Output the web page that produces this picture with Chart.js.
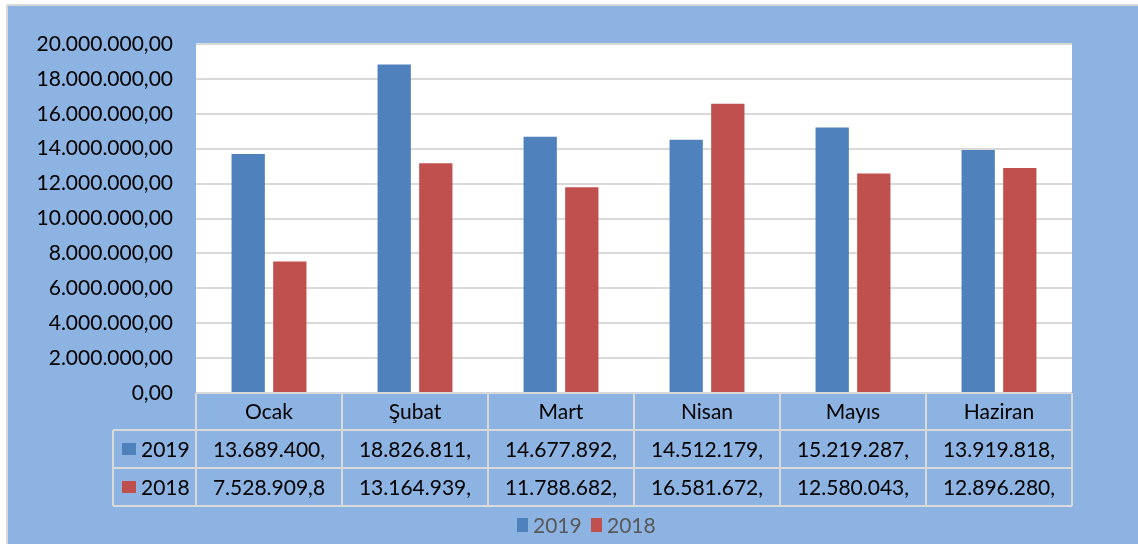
<!DOCTYPE html>
<html>
<head>
<meta charset="utf-8">
<script src="https://cdn.jsdelivr.net/npm/chart.js@4.4.1/dist/chart.umd.min.js"></script>
<style>
  html, body { margin: 0; padding: 0; background: #fff; }
  #wrap { width: 1138px; height: 544px; }
</style>
</head>
<body>
<div id="wrap"><canvas id="chart" width="1138" height="544"></canvas></div>
<script>
const months = ['Ocak', 'Şubat', 'Mart', 'Nisan', 'Mayıs', 'Haziran'];
const series2019 = [13689400, 18826811, 14677892, 14512179, 15219287, 13919818];
const series2018 = [7528909.8, 13164939, 11788682, 16581672, 12580043, 12896280];
// what the data table cells show (Excel cuts them off at the cell edge)
const table2019 = ['13.689.400,', '18.826.811,', '14.677.892,', '14.512.179,', '15.219.287,', '13.919.818,'];
const table2018 = ['7.528.909,8', '13.164.939,', '11.788.682,', '16.581.672,', '12.580.043,', '12.896.280,'];
const seriesNames = ['2019', '2018'];

const BLUE = '#4F81BD';
const RED = '#C0504D';
const BACK = '#8DB3E2';
const LINE = '#D9D9D9';
const FONT = 'Lato, "Open Sans", sans-serif';

function trNumber(v) {
  const parts = v.toFixed(2).split('.');
  return parts[0].replace(/\B(?=(\d{3})+(?!\d))/g, '.') + ',' + parts[1];
}

const framePlugin = {
  id: 'frame',
  beforeDraw(chart) {
    const ctx = chart.ctx;
    const a = chart.chartArea;
    ctx.save();
    ctx.fillStyle = '#fff';
    ctx.fillRect(0, 0, chart.width, chart.height);
    ctx.fillStyle = BACK;
    ctx.fillRect(7, 5, chart.width - 7, chart.height - 5);
    ctx.strokeStyle = LINE;
    ctx.lineWidth = 2;
    ctx.beginPath();
    ctx.moveTo(7, 5); ctx.lineTo(chart.width, 5);
    ctx.moveTo(7, 5); ctx.lineTo(7, chart.height);
    ctx.stroke();
    ctx.fillStyle = '#fff';
    ctx.fillRect(a.left, a.top, a.right - a.left, a.bottom - a.top);
    ctx.restore();
  },
  afterDraw(chart) {
    const ctx = chart.ctx;
    const a = chart.chartArea;
    const x = chart.scales.x;
    const n = months.length;
    const colW = (a.right - a.left) / n;
    const rows = [a.bottom, a.bottom + 37, a.bottom + 75, a.bottom + 113];
    const keyLeft = 113;

    ctx.save();
    ctx.strokeStyle = LINE;
    ctx.lineWidth = 2;
    ctx.beginPath();
    // horizontal lines
    ctx.moveTo(a.left, rows[0]); ctx.lineTo(a.right, rows[0]);
    for (let r = 1; r < rows.length; r++) {
      ctx.moveTo(keyLeft, rows[r]); ctx.lineTo(a.right, rows[r]);
    }
    // vertical lines
    for (let i = 0; i <= n; i++) {
      const cx = a.left + i * colW;
      ctx.moveTo(cx, rows[0]); ctx.lineTo(cx, rows[3]);
    }
    ctx.moveTo(keyLeft, rows[1]); ctx.lineTo(keyLeft, rows[3]);
    ctx.stroke();

    ctx.font = '21px ' + FONT;
    ctx.fillStyle = '#000';
    ctx.textAlign = 'center';
    ctx.textBaseline = 'middle';
    months.forEach((m, i) => {
      const cx = x.getPixelForValue(i);
      ctx.fillText(m, cx, (rows[0] + rows[1]) / 2 + 1);
      ctx.fillText(table2019[i], cx, (rows[1] + rows[2]) / 2 + 1);
      ctx.fillText(table2018[i], cx, (rows[2] + rows[3]) / 2 + 1);
    });

    // series keys in the table
    const keyColors = [BLUE, RED];
    ctx.textAlign = 'left';
    seriesNames.forEach((s, r) => {
      const cy = (rows[r + 1] + rows[r + 2]) / 2;
      ctx.fillStyle = keyColors[r];
      ctx.fillRect(122, cy - 6, 14, 12);
      ctx.fillStyle = '#000';
      ctx.fillText(s, 141, cy + 1);
    });

    // legend below
    let lx = 517;
    const ly = 525;
    seriesNames.forEach((s, r) => {
      ctx.fillStyle = keyColors[r];
      ctx.fillRect(lx, ly - 7, 11, 14);
      ctx.fillStyle = '#595959';
      ctx.fillText(s, lx + 16, ly + 1);
      lx += 74;
    });
    ctx.restore();
  }
};

new Chart(document.getElementById('chart'), {
  type: 'bar',
  data: {
    labels: months,
    datasets: [
      { label: seriesNames[0], data: series2019, backgroundColor: BLUE },
      { label: seriesNames[1], data: series2018, backgroundColor: RED }
    ]
  },
  options: {
    responsive: false,
    animation: false,
    layout: { padding: { left: 0, top: 44, right: 66, bottom: 151 } },
    categoryPercentage: 0.57,
    barPercentage: 0.8,
    plugins: {
      legend: { display: false },
      tooltip: { enabled: false }
    },
    scales: {
      x: { display: false },
      y: {
        min: 0,
        max: 20000000,
        border: { display: false },
        grid: { color: LINE, lineWidth: 2, drawTicks: false },
        ticks: {
          stepSize: 2000000,
          padding: 23,
          color: '#000',
          font: { family: FONT, size: 21 },
          callback: v => trNumber(v)
        },
        afterFit(scale) { scale.width = 196; }
      }
    }
  },
  plugins: [framePlugin]
});
</script>
</body>
</html>
